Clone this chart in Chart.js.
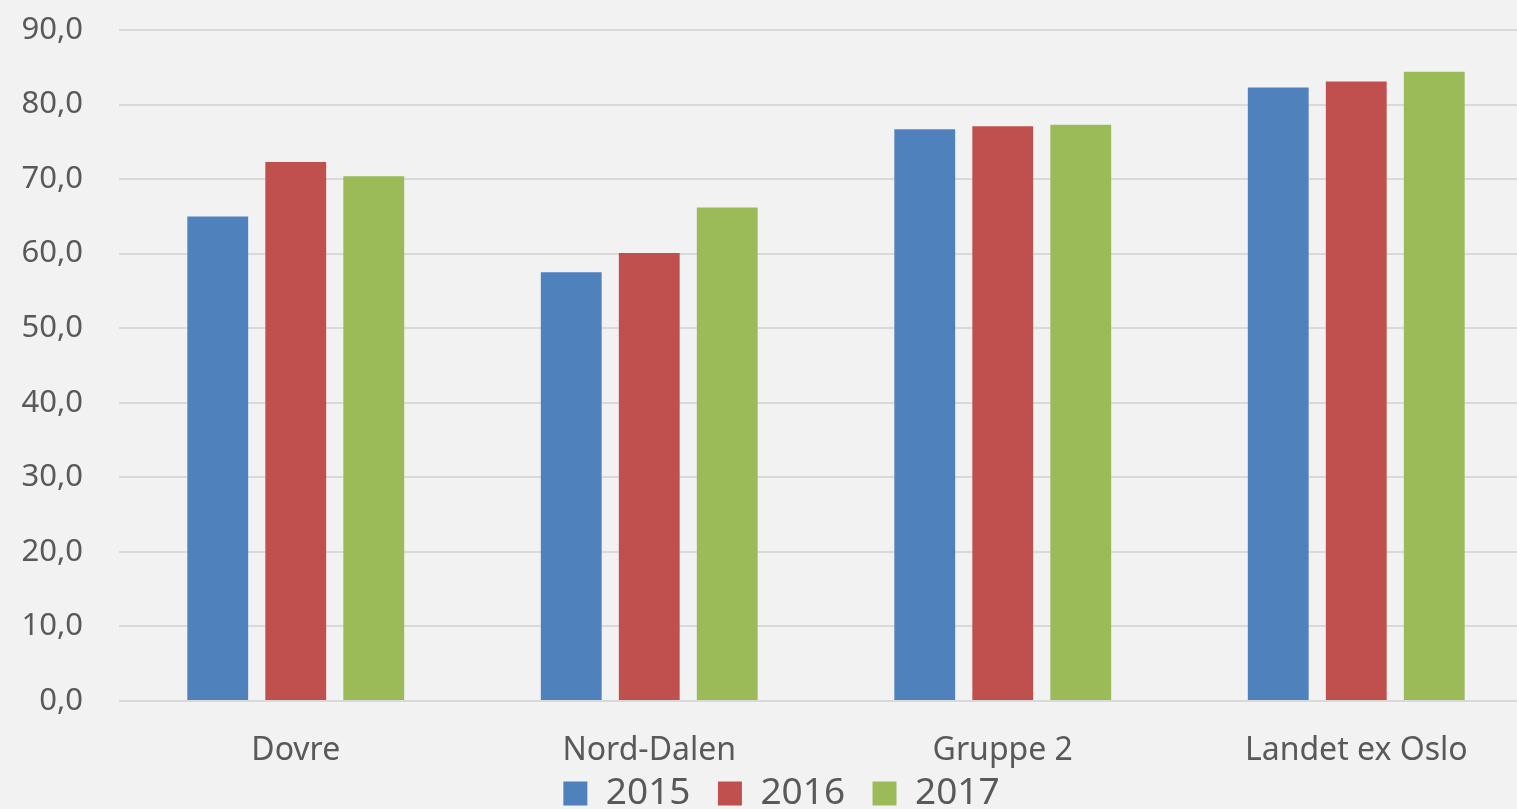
<!DOCTYPE html>
<html>
<head>
<meta charset="utf-8">
<script src="https://cdn.jsdelivr.net/npm/chart.js@4"></script>
<style>
  html, body { margin: 0; padding: 0; background: #f2f2f2; overflow: hidden; }
  #wrap { width: 1517px; height: 809px; overflow: hidden; }
</style>
</head>
<body>
<div id="wrap">
  <canvas id="chart" width="1554" height="809"></canvas>
</div>
<script>
// data
const categories = ["Dovre", "Nord-Dalen", "Gruppe 2", "Landet ex Oslo"];
const years = ["2015", "2016", "2017"];
const values2015 = [65.0, 57.5, 76.7, 82.3];
const values2016 = [72.3, 60.1, 77.1, 83.1];
const values2017 = [70.4, 66.2, 77.3, 84.4];
const colors = ["#4f81bd", "#c0504d", "#9bbb59"];

const textColor = "#595959";
const fontFamily = "'Noto Sans', 'Open Sans', sans-serif";

// legend sits tight against the bottom edge and a little right of centre
const tightLegend = {
  id: "tightLegend",
  beforeInit(chart) {
    const legend = chart.legend;
    if (!legend) return;
    const fit = legend.fit;
    legend.fit = function () {
      fit.call(this);
      this.height = 36;
    };
  },
  afterLayout(chart) {
    if (!chart.legend) return;
    chart.legend.left += 15;
    chart.legend.right += 15;
  },
};

new Chart(document.getElementById("chart"), {
  type: "bar",
  data: {
    labels: categories,
    datasets: [values2015, values2016, values2017].map((d, i) => ({
      label: years[i],
      data: d,
      backgroundColor: colors[i],
      borderWidth: 0,
      barPercentage: 0.78,
      categoryPercentage: 0.662,
    })),
  },
  plugins: [tightLegend],
  options: {
    responsive: false,
    animation: false,
    layout: { padding: { top: 30, right: 21, left: 0, bottom: 0 } },
    plugins: {
      tooltip: { enabled: false },
      legend: {
        position: "bottom",
        labels: {
          color: textColor,
          font: { family: fontFamily, size: 37 },
          boxWidth: 24,
          boxHeight: 24,
          padding: 2,
          // extra gap after the first two entries, like the original legend
          generateLabels: (chart) =>
            Chart.defaults.plugins.legend.labels.generateLabels(chart).map((l, i, arr) => {
              if (i < arr.length - 1) l.text = l.text + "  \u2006";
              return l;
            }),
        },
      },
    },
    scales: {
      x: {
        grid: { display: false },
        border: { display: false },
        ticks: {
          color: textColor,
          font: { family: fontFamily, size: 32 },
          padding: 23,
        },
        afterFit: (s) => { s.height = 72; },
      },
      y: {
        min: 0,
        max: 90,
        border: { display: false },
        grid: { color: "#d9d9d9", lineWidth: 2, drawTicks: false },
        ticks: {
          stepSize: 10,
          color: textColor,
          font: { family: fontFamily, size: 31 },
          padding: 36,
          callback: (v) => v.toFixed(1).replace(".", ","),
        },
        afterFit: (s) => {
          s.width = 119;
          s.paddingTop = 0;
          s.paddingBottom = 0;
        },
      },
    },
  },
});
</script>
</body>
</html>
